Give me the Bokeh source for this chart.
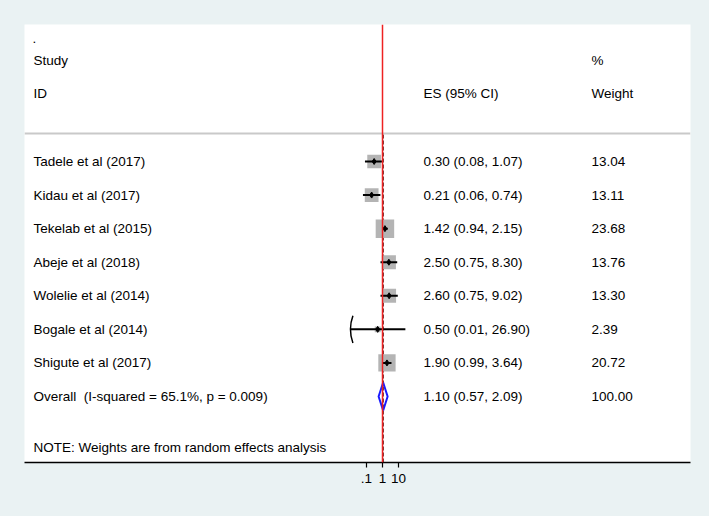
import math
from bokeh.plotting import figure
from bokeh.models import Range1d, FixedTicker, Span
from bokeh.core.properties import value
from bokeh.embed import file_html
from bokeh.resources import INLINE

# ---------------- data ----------------
studies = ["Tadele et al (2017)", "Kidau et al (2017)", "Tekelab et al (2015)",
           "Abeje et al (2018)", "Wolelie et al (2014)", "Bogale et al (2014)",
           "Shigute et al (2017)"]
es = [0.30, 0.21, 1.42, 2.50, 2.60, 0.50, 1.90]
ci_low = [0.08, 0.06, 0.94, 0.75, 0.75, 0.01, 0.99]
ci_high = [1.07, 0.74, 2.15, 8.30, 9.02, 26.90, 3.64]
weights = [13.04, 13.11, 23.68, 13.76, 13.30, 2.39, 20.72]
truncated_low = [False, False, False, False, False, True, False]

overall_label = "Overall\u00a0 (I-squared = 65.1%, p = 0.009)"
overall_es = 1.10
overall_low = 0.57
overall_high = 2.09
overall_weight = 100.00

note = "NOTE: Weights are from random effects analysis"
tick_values = [0.1, 1, 10]
tick_labels = [".1", "1", "10"]

# ---------------- layout ----------------
FONT = "Liberation Sans"
FS = "13.5px"
BG = "#eaf2f3"
PXD = 16.0            # pixels per decade on the log axis
X_ONE = 382.0         # page x of value 1
FRAME_L, FRAME_R = 24.0, 690.0
ROW0_Y, ROW_H = 161.0, 33.57
FRAME_T, FRAME_B = 24.0, 462.0
W, H = 709, 516


def xpos(px):
    return 10 ** ((px - X_ONE) / PXD)


def rowpos(py):
    return 1 + (py - ROW0_Y) / ROW_H


rows = list(range(1, len(studies) + 1))
overall_row = len(studies) + 1

p = figure(width=W, height=H, x_axis_type="log",
           x_range=Range1d(xpos(FRAME_L), xpos(FRAME_R)),
           y_range=Range1d(rowpos(FRAME_B), rowpos(FRAME_T)),
           output_backend="svg", toolbar_location=None,
           min_border_left=int(FRAME_L), min_border_right=int(W - FRAME_R),
           min_border_top=int(FRAME_T), min_border_bottom=int(H - FRAME_B),
           y_axis_location=None,
           background_fill_color="white", border_fill_color=BG,
           outline_line_color=None)
p.grid.visible = False

ax = p.xaxis[0]
ax.ticker = FixedTicker(ticks=tick_values, minor_ticks=[])
ax.major_label_overrides = {v: l for v, l in zip(tick_values, tick_labels)}
ax.axis_line_color = "black"
ax.axis_line_width = 1.5
ax.major_tick_line_color = "black"
ax.major_tick_line_width = 1.2
ax.major_tick_out = 5
ax.major_tick_in = 0
ax.minor_tick_line_color = None
ax.major_label_text_font = FONT
ax.major_label_text_font_size = FS
ax.major_label_text_color = "black"
ax.major_label_standoff = 6

# separator under header
p.add_layout(Span(location=rowpos(133), dimension="width",
                  line_color="#c9c9c9", line_width=2))
# null line
p.add_layout(Span(location=1, dimension="height", line_color="#ee2222", line_width=1.5))
# overall dashed line
p.line(x=[overall_es, overall_es], y=[rowpos(134), rowpos(FRAME_B)],
       line_color="#4a0d0d", line_width=1.3, line_dash="4 2")

# squares
sizes = [3.8 * math.sqrt(w) for w in weights]
p.scatter(x=es, y=rows, size=sizes, marker="square",
          fill_color="#b4b4b4", line_color=None)
# CIs
p.segment(x0=ci_low, x1=ci_high, y0=rows, y1=rows, line_color="black", line_width=2)
# point estimates
p.scatter(x=es, y=rows, size=6, marker="diamond", fill_color="black", line_color="black")

# truncated-CI arrowheads
arc_r = 40
for lo, r, t in zip(ci_low, rows, truncated_low):
    if t:
        p.arc(x=[lo * 10 ** (arc_r / PXD)], y=[r], radius=arc_r, radius_units="screen",
              start_angle=math.radians(160), end_angle=math.radians(200),
              line_color="black", line_width=1.5)

# overall diamond
dh = 14 / ROW_H
p.patch(x=[overall_low, overall_es, overall_high, overall_es],
        y=[overall_row, overall_row - dh, overall_row, overall_row + dh],
        fill_color=None, line_color="#1a1aff", line_width=2)

# texts
tkw = dict(text_font=value(FONT), text_font_size=FS, text_color="black",
           text_baseline="middle", text_align="left")
x_study, x_es, x_w = xpos(33), xpos(423), xpos(591)

es_text = [f"{e:.2f} ({l:.2f}, {h:.2f})" for e, l, h in zip(es, ci_low, ci_high)]
w_text = [f"{w:.2f}" for w in weights]

p.text(x=[x_study] * len(studies), y=rows, text=studies, **tkw)
p.text(x=[x_es] * len(studies), y=rows, text=es_text, **tkw)
p.text(x=[x_w] * len(studies), y=rows, text=w_text, **tkw)

p.text(x=[x_study], y=[overall_row], text=[overall_label], **tkw)
p.text(x=[x_es], y=[overall_row],
       text=[f"{overall_es:.2f} ({overall_low:.2f}, {overall_high:.2f})"], **tkw)
p.text(x=[x_w], y=[overall_row], text=[f"{overall_weight:.2f}"], **tkw)
p.text(x=[x_study], y=[rowpos(447)], text=[note], **tkw)

# headers
p.text(x=[xpos(32)], y=[rowpos(38)], text=["."], **tkw)
p.text(x=[x_study, x_w], y=[rowpos(60), rowpos(60)], text=["Study", "%"], **tkw)
p.text(x=[x_study, x_es, x_w], y=[rowpos(93)] * 3, text=["ID", "ES (95% CI)", "Weight"], **tkw)

html = file_html(p, INLINE, title="Forest plot")
i = html.rfind("</head>")
if i >= 0:
    html = html[:i] + "<style>body{background:%s;}</style>" % BG + html[i:]
open("out.html", "w").write(html)
